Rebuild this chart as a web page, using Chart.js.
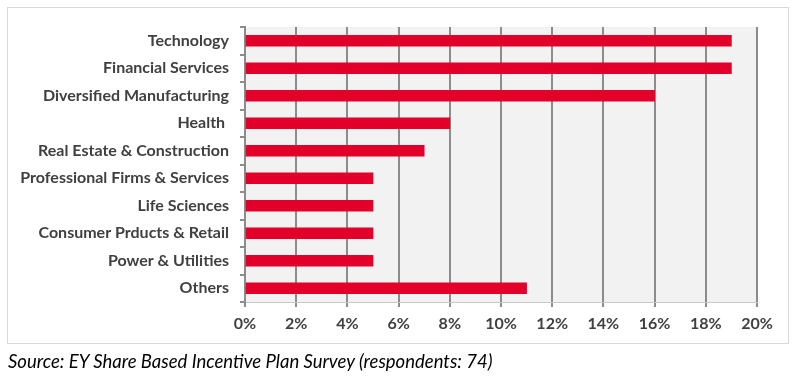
<!DOCTYPE html>
<html><head><meta charset="utf-8">
<script src="https://cdn.jsdelivr.net/npm/chart.js@4"></script>
<style>
html,body{margin:0;padding:0;background:#fff;}
#wrap{position:relative;width:800px;height:379px;overflow:hidden;}
#frame{position:absolute;left:7px;top:7px;width:782px;height:337px;border:1px solid #d9d9d9;box-sizing:border-box;}
#c{position:absolute;left:0;top:0;}
#src{position:absolute;left:8px;top:350px;font-family:Lato,"Open Sans",sans-serif;font-style:italic;font-size:18.5px;color:#000;white-space:nowrap;}
</style></head>
<body>
<div id="wrap">
<div id="frame"></div>
<canvas id="c" width="800" height="379"></canvas>
<div id="src">Source: EY Share Based Incentive Plan Survey (respondents: 74)</div>
</div>
<script>
const categories = ["Technology","Financial Services","Diversified Manufacturing","Health ","Real Estate & Construction","Professional Firms & Services","Life Sciences","Consumer Prducts & Retail","Power & Utilities","Others"];
const values = [19,19,16,8,7,5,5,5,5,11];
const xTicks = [0,2,4,6,8,10,12,14,16,18,20];

const bgPlugin = {
  id:'bg',
  beforeDraw(chart){
    const {ctx, chartArea:a} = chart;
    ctx.save();
    ctx.fillStyle = '#f2f2f2';
    ctx.fillRect(a.left, a.top, a.right-a.left, a.bottom-a.top);
    ctx.restore();
  }
};

new Chart(document.getElementById('c'), {
  type:'bar',
  data:{labels:categories, datasets:[{data:values, backgroundColor:'#e2002a', borderWidth:0, barThickness:11}]},
  options:{
    indexAxis:'y',
    responsive:false,
    animation:false,
    layout:{padding:{top:27,right:43,bottom:37,left:0}},
    plugins:{legend:{display:false},tooltip:{enabled:false}},
    scales:{
      x:{
        min:0,max:20,
        afterBuildTicks(s){ s.ticks = xTicks.map(v=>({value:v})); },
        afterFit(s){ s.height = 40; },
        ticks:{callback:v=>v+'%', color:'#404040', padding:7, font:{family:'Lato', size:16, weight:'bold'}},
        grid:{color:'#8c8c8c', lineWidth:2, tickLength:5, tickColor:'#8c8c8c'},
        border:{display:true, color:'#c8c8c8', width:1}
      },
      y:{
        afterFit(s){ s.width = 245; },
        ticks:{color:'#404040', padding:11, font:{family:'Lato', size:16, weight:'bold'}},
        grid:{drawOnChartArea:false, color:'#8c8c8c', lineWidth:2, tickLength:5, offset:true},
        border:{display:true, color:'#8c8c8c', width:2}
      }
    }
  },
  plugins:[bgPlugin]
});
</script>
</body></html>
